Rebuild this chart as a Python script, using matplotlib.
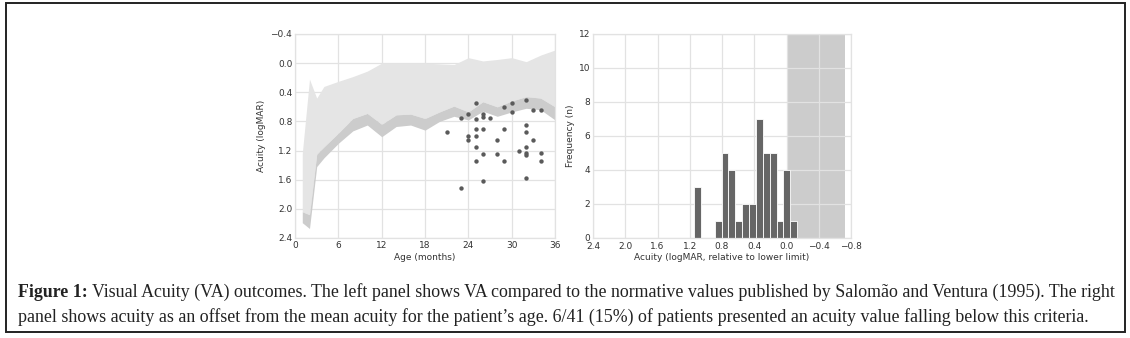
import numpy as np
import matplotlib
matplotlib.use('Agg')
import matplotlib.pyplot as plt
import matplotlib.patches as mpatches

# normative bands (Salomao and Ventura 1995)
ages = [1, 2, 3, 4, 6, 8, 10, 12, 14, 16, 18, 20, 22, 24, 26, 28, 30, 32, 34, 36]
band_top = [1.24, 0.22, 0.48, 0.32, 0.25, 0.185, 0.11, 0.0, 0.0, 0.0, 0.0, 0.01, 0.02,
            -0.075, -0.03, -0.05, -0.075, -0.02, -0.11, -0.18]
band_mid = [2.04, 2.08, 1.25, 1.15, 0.96, 0.76, 0.69, 0.84, 0.71, 0.70, 0.76, 0.67, 0.59,
            0.67, 0.53, 0.60, 0.52, 0.46, 0.48, 0.60]
band_low = [2.19, 2.27, 1.42, 1.30, 1.10, 0.93, 0.85, 1.01, 0.87, 0.85, 0.92, 0.80, 0.73,
            0.78, 0.66, 0.73, 0.67, 0.62, 0.64, 0.78]

# patients
pt_age = [21, 23, 23, 24, 24, 24, 25, 25, 25, 25, 25, 25, 26, 26, 26, 26, 26, 27, 28, 28,
          29, 29, 29, 30, 30, 31, 32, 32, 32, 32, 32, 32, 32, 33, 33, 34, 34, 34]
pt_va = [0.95, 0.75, 1.72, 0.70, 1.00, 1.05, 0.55, 0.77, 0.90, 1.00, 1.15, 1.35, 0.70, 0.74,
         0.90, 1.25, 1.62, 0.75, 1.05, 1.25, 0.60, 0.90, 1.35, 0.55, 0.67, 1.20, 0.50, 0.85,
         0.95, 1.15, 1.23, 1.26, 1.58, 0.65, 1.05, 0.65, 1.23, 1.35]

# histogram of offsets
hist_counts = [3, 0, 0, 1, 5, 4, 1, 2, 2, 7, 5, 5, 1, 4, 1]
hist_hi = 1.146
hist_lo = -0.133
normal_lo, normal_hi = -0.73, 0.0

grid_c = '#e2e2e2'
txt_c = '#333333'


def fmt(v, p):
    if abs(v) < 1e-9:
        return '0.0'
    return ('%.1f' % v).replace('-', '\u2212')


fig = plt.figure(figsize=(11.3, 3.38), dpi=100)

ax1 = fig.add_axes([0.2611, 0.2959, 0.2301, 0.6036])
ax2 = fig.add_axes([0.5248, 0.2959, 0.2283, 0.6036])

for ax in (ax1, ax2):
    ax.set_axisbelow(True)
    ax.grid(True, color=grid_c, linewidth=0.9)
    for s in ax.spines.values():
        s.set_color(grid_c)
        s.set_linewidth(0.9)
    ax.tick_params(length=0, labelsize=6.5, colors=txt_c, pad=2)

# left panel
ax1.fill_between(ages, band_top, band_mid, color='#e5e5e5', linewidth=0, zorder=1)
ax1.fill_between(ages, band_mid, band_low, color='#cccccc', linewidth=0, zorder=1)
ax1.scatter(pt_age, pt_va, s=10, color='#5a5a5a', linewidths=0, zorder=3)
ax1.set_xlim(0, 36)
ax1.set_ylim(2.4, -0.4)
ax1.set_xticks(range(0, 37, 6))
ax1.set_yticks(np.arange(-0.4, 2.41, 0.4))
ax1.yaxis.set_major_formatter(plt.FuncFormatter(fmt))
ax1.set_xlabel('Age (months)', fontsize=6.5, color=txt_c, labelpad=2)
ax1.set_ylabel('Acuity (logMAR)', fontsize=6.5, color=txt_c, labelpad=3)

# right panel
ax2.axvspan(normal_lo, normal_hi, color='#cccccc', linewidth=0, zorder=0.5)
edges = np.linspace(hist_hi, hist_lo, len(hist_counts) + 1)
widths = edges[1:] - edges[:-1]
ax2.bar(edges[:-1], hist_counts, width=widths, align='edge', color='#666666',
        edgecolor='white', linewidth=0.6, zorder=2)
ax2.set_xlim(2.4, -0.8)
ax2.set_ylim(0, 12)
ax2.set_xticks(np.arange(-0.8, 2.41, 0.4))
ax2.set_yticks(range(0, 13, 2))
ax2.xaxis.set_major_formatter(plt.FuncFormatter(fmt))
ax2.tick_params(axis='x', pad=3)
ax2.set_xlabel('Acuity (logMAR, relative to lower limit)', fontsize=6.5, color=txt_c, labelpad=1)
ax2.set_ylabel('Frequency (n)', fontsize=6.5, color=txt_c, labelpad=3)

# frame around the figure
fig.patches.append(mpatches.Rectangle((6 / 1130, 6 / 338), 1119 / 1130, 329 / 338,
                                      transform=fig.transFigure, fill=False,
                                      edgecolor='#222222', linewidth=1.4))

# caption
cap_font = 'Liberation Serif'
cap_size = 12.9
renderer = fig.canvas.get_renderer()
t0 = fig.text(18 / 1130, 1 - 297 / 338, 'Figure 1:', fontsize=cap_size, fontweight='bold',
              family=cap_font, color='#222222', va='baseline')
bb = t0.get_window_extent(renderer=renderer)
fig.text(bb.x1 / 1130 + 4 / 1130, 1 - 297 / 338,
         'Visual Acuity (VA) outcomes. The left panel shows VA compared to the normative values '
         'published by Salom\u00e3o and Ventura (1995). The right',
         fontsize=cap_size, family=cap_font, color='#222222', va='baseline')
fig.text(18 / 1130, 1 - 322 / 338,
         'panel shows acuity as an offset from the mean acuity for the patient\u2019s age. '
         '6/41 (15%) of patients presented an acuity value falling below this criteria.',
         fontsize=cap_size, family=cap_font, color='#222222', va='baseline')

fig.savefig('out.png', dpi=100)
